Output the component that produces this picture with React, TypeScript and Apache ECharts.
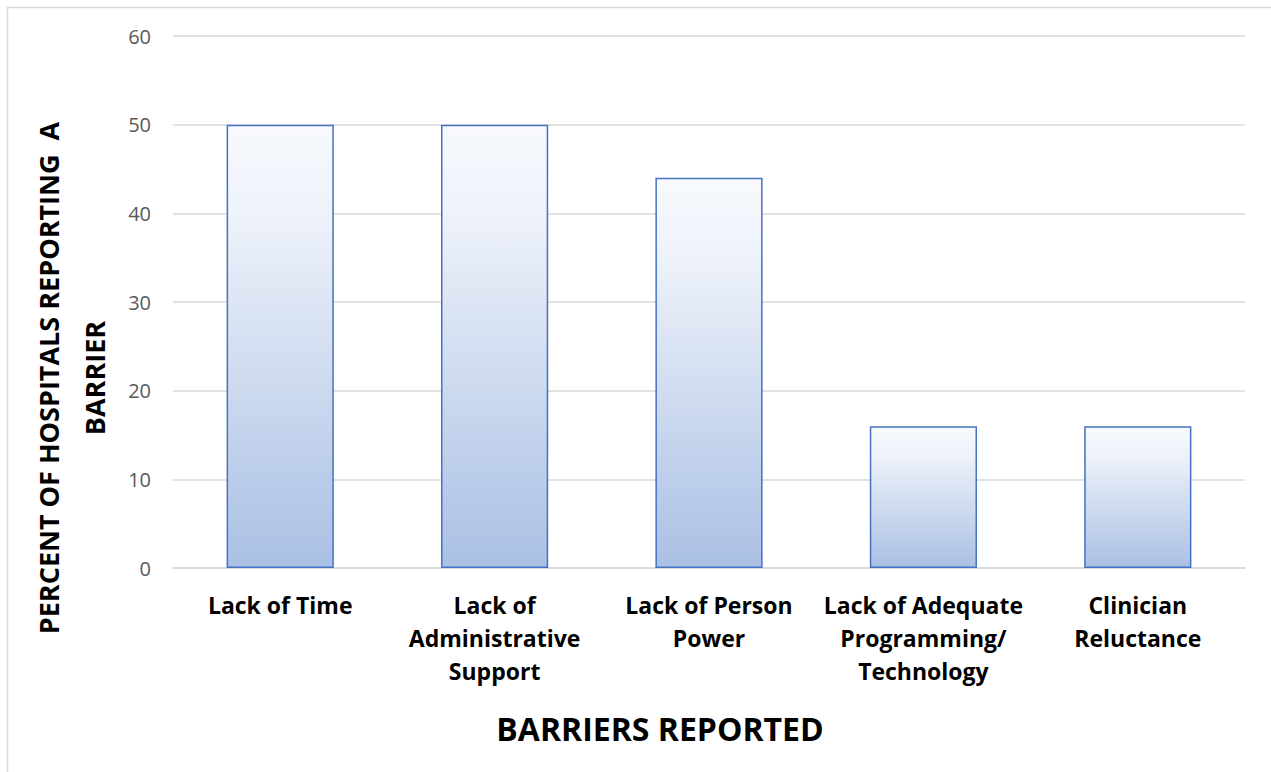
import React, { useEffect, useRef } from "react";
import * as echarts from "echarts";

const categories = [
  "Lack of Time",
  "Lack of\nAdministrative\nSupport",
  "Lack of Person\nPower",
  "Lack of Adequate\nProgramming/\nTechnology",
  "Clinician\nReluctance",
];
const values = [50, 50, 44, 16, 16];
const yTitle = "PERCENT OF HOSPITALS REPORTING  A\nBARRIER";
const xTitle = "BARRIERS REPORTED";

const FONT = "'Open Sans', Lato, sans-serif";

export default function App() {
  const ref = useRef<HTMLDivElement>(null);
  useEffect(() => {
    if (!ref.current) return;
    const chart = echarts.init(ref.current, null, { renderer: "svg" });
    chart.setOption({
      animation: false,
      backgroundColor: "#ffffff",
      grid: { left: 173, right: 26, top: 36, bottom: 204 },
      xAxis: {
        type: "category",
        data: categories,
        axisLine: { show: true, lineStyle: { color: "#d9d9d9", width: 1.5 } },
        axisTick: { show: false },
        axisLabel: {
          color: "#000",
          fontFamily: FONT,
          fontWeight: "bold",
          fontSize: 23,
          lineHeight: 33,
          margin: 20,
          interval: 0,
        },
      },
      yAxis: {
        type: "value",
        min: 0,
        max: 60,
        interval: 10,
        axisLine: { show: false },
        axisTick: { show: false },
        splitLine: { lineStyle: { color: "#d9d9d9", width: 1.5 } },
        axisLabel: {
          color: "#595959",
          fontFamily: FONT,
          fontSize: 20,
          margin: 22,
        },
      },
      series: [
        {
          type: "bar",
          data: values,
          barWidth: "50%",
          itemStyle: {
            color: new echarts.graphic.LinearGradient(0, 0, 0, 1, [
              { offset: 0, color: "#f7f9fd" },
              { offset: 0.2, color: "#eef2fa" },
              { offset: 1, color: "#aac0e4" },
            ]),
            borderColor: "#4472c4",
            borderWidth: 1.5,
          },
        },
      ],
      graphic: [
        {
          type: "rect",
          shape: { x: 7.5, y: 7.5, width: 1300, height: 800 },
          style: { fill: "none", stroke: "#d9d9d9", lineWidth: 1.5 },
          silent: true,
        },
        {
          type: "text",
          x: 71,
          y: 378,
          rotation: Math.PI / 2,
          style: {
            text: yTitle,
            fontFamily: FONT,
            fontWeight: "bold",
            fontSize: 27,
            lineHeight: 46,
            fill: "#000",
            align: "center",
            verticalAlign: "middle",
          },
        },
        {
          type: "text",
          x: 660,
          y: 728,
          style: {
            text: xTitle,
            fontFamily: FONT,
            fontWeight: "bold",
            fontSize: 32,
            fill: "#000",
            align: "center",
            verticalAlign: "middle",
          },
        },
      ],
    });
    return () => chart.dispose();
  }, []);
  return (
    <div
      ref={ref}
      style={{ position: "absolute", left: 0, top: 0, width: 1271, height: 772 }}
    />
  );
}
